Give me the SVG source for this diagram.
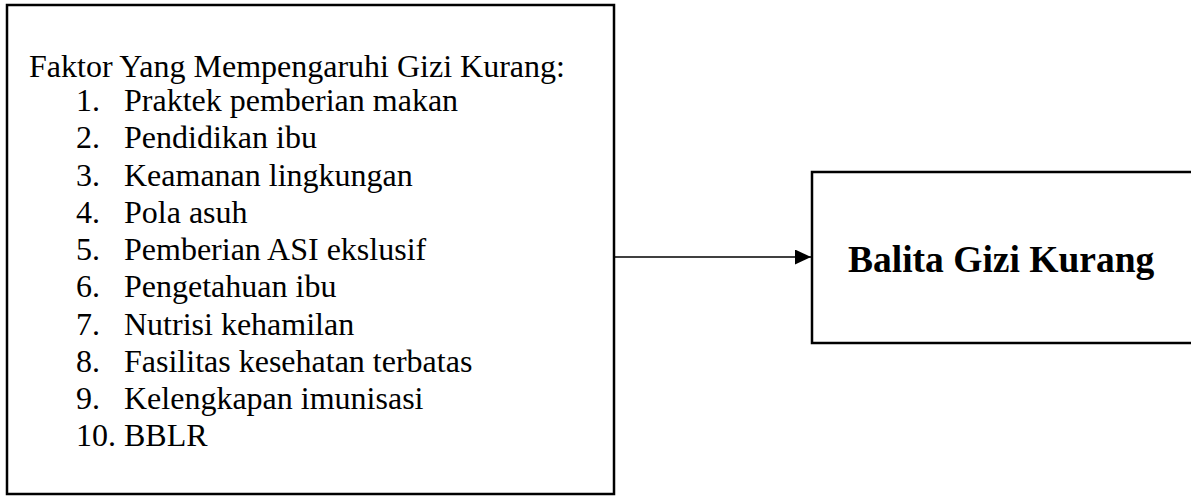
<svg xmlns="http://www.w3.org/2000/svg" width="1191" height="497" viewBox="0 0 1191 497">
<style>
.box{fill:#fff;stroke:#000;stroke-width:2.5}
.t{font-family:"Liberation Serif","Times New Roman",serif;font-size:32px;fill:#000}
.b{font-family:"Liberation Serif","Times New Roman",serif;font-size:37.5px;font-weight:bold;fill:#000}
.conn{stroke:#000;stroke-width:1.5;fill:none}
</style>
<defs>
<marker id="arr" markerWidth="16" markerHeight="15" refX="16" refY="7.5" orient="auto" markerUnits="userSpaceOnUse">
<path d="M0,0 L16,7.5 L0,15 Z" fill="#000"/>
</marker>
</defs>
<rect width="1191" height="497" fill="#fff"/>
<g id="faktor">
<rect class="box" x="7" y="5" width="607" height="489"/>
<text class="t" x="29" y="77">Faktor Yang Mempengaruhi Gizi Kurang:</text>
<g class="t">
<text x="76" y="111">1.</text><text x="124" y="111">Praktek pemberian makan</text>
<text x="76" y="148">2.</text><text x="124" y="148">Pendidikan ibu</text>
<text x="76" y="185.5">3.</text><text x="124" y="185.5">Keamanan lingkungan</text>
<text x="76" y="223">4.</text><text x="124" y="223">Pola asuh</text>
<text x="76" y="260">5.</text><text x="124" y="260">Pemberian ASI ekslusif</text>
<text x="76" y="297">6.</text><text x="124" y="297">Pengetahuan ibu</text>
<text x="76" y="334.5">7.</text><text x="124" y="334.5">Nutrisi kehamilan</text>
<text x="76" y="372">8.</text><text x="124" y="372">Fasilitas kesehatan terbatas</text>
<text x="76" y="409">9.</text><text x="124" y="409">Kelengkapan imunisasi</text>
<text x="76" y="446">10. BBLR</text>
</g>
</g>
<g id="balita">
<rect class="box" x="812" y="172" width="400" height="171"/>
<text class="b" x="848" y="272">Balita Gizi Kurang</text>
</g>
<g id="connectors">
<line class="conn" x1="615" y1="257" x2="811" y2="257" marker-end="url(#arr)"/>
</g>
</svg>
